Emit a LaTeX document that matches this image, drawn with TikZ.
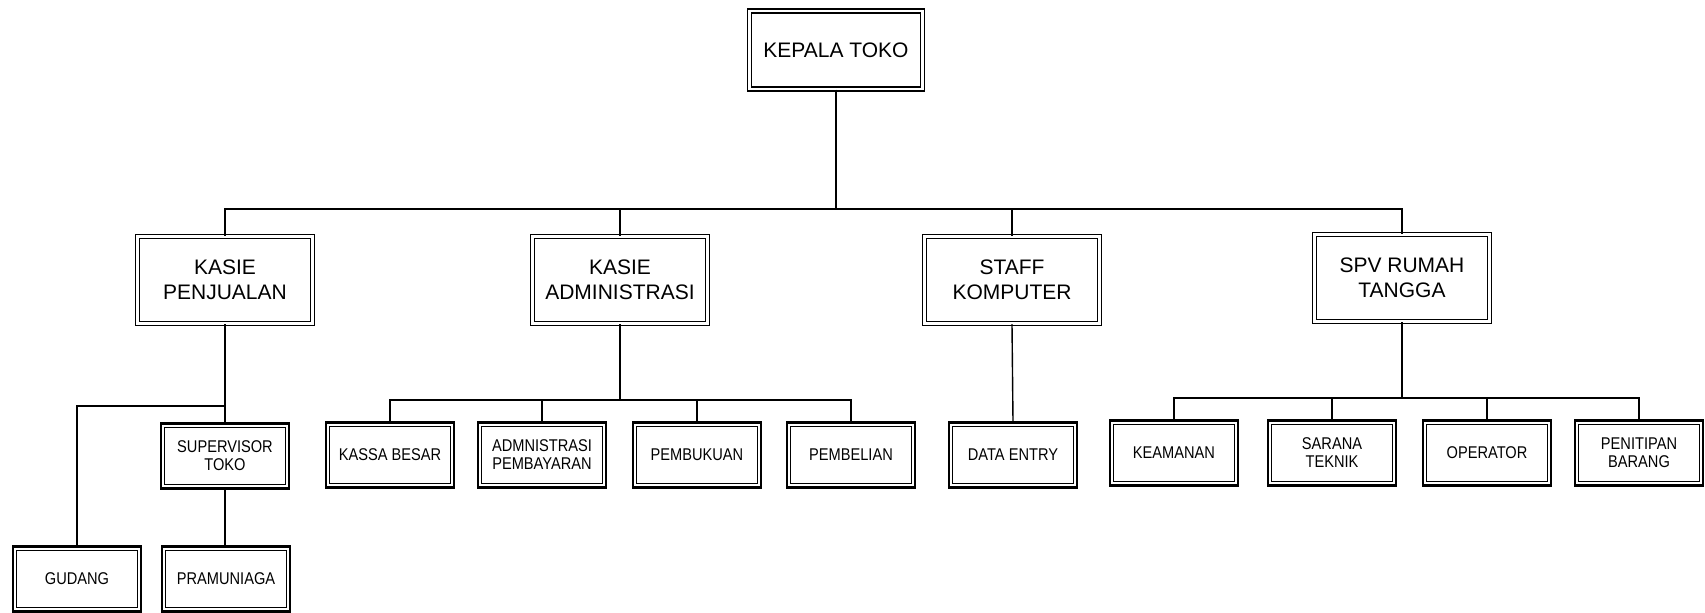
\documentclass[tikz,border=0pt]{standalone}
\usepackage{fontspec}
\setmainfont{Liberation Sans}
\newfontfamily\narrowsf[FakeStretch=0.86]{Liberation Sans}

\tikzset{
  topbox/.style={draw, double, line width=0.7pt, double distance=1.2pt,
    minimum width=86.5pt, minimum height=39pt, inner sep=1pt, align=center,
    font=\fontsize{10.5}{12.5}\selectfont},
  headbox/.style={topbox, minimum width=87.5pt, minimum height=43.5pt},
  unitbox/.style={draw, line width=1.4pt, minimum width=64pt, minimum height=32.5pt,
    inner sep=1pt, align=center, font=\narrowsf\fontsize{8.5}{9}\selectfont,
    path picture={\draw[line width=0.45pt]
      ([shift={(1.8pt,1.8pt)}]path picture bounding box.south west) rectangle
      ([shift={(-1.8pt,-1.8pt)}]path picture bounding box.north east);}},
  link/.style={line width=0.7pt}
}

\begin{document}
\begin{tikzpicture}[x=0.5pt,y=0.5pt,yscale=-1,xscale=1]
\useasboundingbox (0,0) rectangle (1705,613);

% Head
\node [topbox] (kepala) at (836,50) {KEPALA TOKO};

% Kasie level
\node [headbox] (penjualan) at (225,280) {KASIE\\PENJUALAN};
\node [headbox] (admin) at (620,280) {KASIE\\ADMINISTRASI};
\node [headbox] (staff) at (1012,280) {STAFF\\KOMPUTER};
\node [headbox] (spv) at (1402,278) {SPV RUMAH\\TANGGA};

% Units under penjualan
\node [unitbox] (supervisor) at (225,456) {SUPERVISOR\\TOKO};
\node [unitbox] (gudang) at (77,579) {GUDANG};
\node [unitbox] (pramuniaga) at (226,579) {PRAMUNIAGA};

% Units under administrasi
\node [unitbox] (kassa) at (390,455) {KASSA BESAR};
\node [unitbox] (pembayaran) at (542,455) {ADMNISTRASI\\PEMBAYARAN};
\node [unitbox] (pembukuan) at (697,455) {PEMBUKUAN};
\node [unitbox] (pembelian) at (851,455) {PEMBELIAN};

% Unit under komputer
\node [unitbox] (dataentry) at (1013,455) {DATA ENTRY};

% Units under rumah tangga
\node [unitbox] (keamanan) at (1174,453) {KEAMANAN};
\node [unitbox] (sarana) at (1332,453) {SARANA\\TEKNIK};
\node [unitbox] (operator) at (1487,453) {OPERATOR};
\node [unitbox] (penitipan) at (1639,453) {PENITIPAN\\BARANG};

% Connectors
\coordinate (bus) at (836,209);
\draw [link] (kepala.south) -- (bus);
\draw [link] (penjualan.north) |- (bus);
\draw [link] (admin.north) |- (bus);
\draw [link] (staff.north) |- (bus);
\draw [link] (spv.north) |- (bus);

\coordinate (jualbus) at (225,406);
\draw [link] (penjualan.south) -- (supervisor.north);
\draw [link] (gudang.north) |- (jualbus);
\draw [link] (supervisor.south) -- (supervisor.south |- pramuniaga.north);

\coordinate (adminbus) at (620,400);
\draw [link] (admin.south) -- (adminbus);
\draw [link] (kassa.north) |- (adminbus);
\draw [link] (pembayaran.north) |- (adminbus);
\draw [link] (pembukuan.north) |- (adminbus);
\draw [link] (pembelian.north) |- (adminbus);

\draw [link] (staff.south) -- (dataentry.north);

\coordinate (spvbus) at (1402,398);
\draw [link] (spv.south) -- (spvbus);
\draw [link] (keamanan.north) |- (spvbus);
\draw [link] (sarana.north) |- (spvbus);
\draw [link] (operator.north) |- (spvbus);
\draw [link] (penitipan.north) |- (spvbus);

\end{tikzpicture}
\end{document}
